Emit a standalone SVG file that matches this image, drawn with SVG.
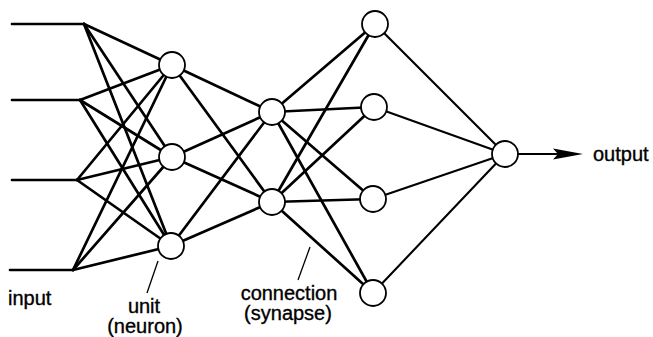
<svg xmlns="http://www.w3.org/2000/svg" width="653" height="337" viewBox="0 0 653 337">
<style>
.c{stroke:#000;stroke-width:2.7;stroke-linecap:round;fill:none}
.c2{stroke:#000;stroke-width:2.1;stroke-linecap:round;fill:none}
.n{fill:#fff;stroke:#000;stroke-width:1.8}
.t{font-family:"Liberation Sans",Arial,sans-serif;font-size:20px;fill:#000;stroke:#000;stroke-width:0.35}
.p{stroke:#000;stroke-width:1.3;fill:none}
</style>
<rect width="653" height="337" fill="#fff"/>
<g id="connectors">
<line class="c" x1="12" y1="24" x2="84" y2="24"/>
<line class="c" x1="12" y1="100" x2="80" y2="100"/>
<line class="c" x1="12" y1="180" x2="77" y2="180"/>
<line class="c" x1="10" y1="270" x2="73" y2="270"/>
<line class="c" x1="84" y1="24" x2="172" y2="65"/>
<line class="c" x1="84" y1="24" x2="172" y2="157"/>
<line class="c" x1="84" y1="24" x2="171" y2="246"/>
<line class="c" x1="80" y1="100" x2="172" y2="65"/>
<line class="c" x1="80" y1="100" x2="172" y2="157"/>
<line class="c" x1="80" y1="100" x2="171" y2="246"/>
<line class="c" x1="77" y1="180" x2="172" y2="65"/>
<line class="c" x1="77" y1="180" x2="172" y2="157"/>
<line class="c" x1="77" y1="180" x2="171" y2="246"/>
<line class="c" x1="73" y1="270" x2="172" y2="65"/>
<line class="c" x1="73" y1="270" x2="172" y2="157"/>
<line class="c" x1="73" y1="270" x2="171" y2="246"/>
<line class="c" x1="172" y1="65" x2="272" y2="112"/>
<line class="c" x1="172" y1="65" x2="272" y2="202"/>
<line class="c" x1="172" y1="157" x2="272" y2="112"/>
<line class="c" x1="172" y1="157" x2="272" y2="202"/>
<line class="c" x1="171" y1="246" x2="272" y2="112"/>
<line class="c" x1="171" y1="246" x2="272" y2="202"/>
<line class="c" x1="272" y1="112" x2="375" y2="24"/>
<line class="c" x1="272" y1="112" x2="374" y2="107"/>
<line class="c" x1="272" y1="112" x2="373" y2="199"/>
<line class="c" x1="272" y1="112" x2="373" y2="293"/>
<line class="c" x1="272" y1="202" x2="375" y2="24"/>
<line class="c" x1="272" y1="202" x2="374" y2="107"/>
<line class="c" x1="272" y1="202" x2="373" y2="199"/>
<line class="c" x1="272" y1="202" x2="373" y2="293"/>
<line class="c2" x1="375" y1="24" x2="505" y2="154"/>
<line class="c2" x1="374" y1="107" x2="505" y2="154"/>
<line class="c2" x1="373" y1="199" x2="505" y2="154"/>
<line class="c2" x1="373" y1="293" x2="505" y2="154"/>
<line class="c2" x1="505" y1="154" x2="560" y2="154"/>
<polygon points="583,154 553,148.5 558,154 553,159.5" fill="#000"/>
<line class="p" x1="158" y1="261" x2="147" y2="293"/>
<line class="p" x1="310" y1="247" x2="298" y2="280"/>
</g>
<g id="h1a"><circle class="n" cx="172" cy="65" r="13"/></g>
<g id="h1b"><circle class="n" cx="172" cy="157" r="13"/></g>
<g id="h1c"><circle class="n" cx="171" cy="246" r="13"/></g>
<g id="h2a"><circle class="n" cx="272" cy="112" r="13"/></g>
<g id="h2b"><circle class="n" cx="272" cy="202" r="13"/></g>
<g id="h3a"><circle class="n" cx="375" cy="24" r="13"/></g>
<g id="h3b"><circle class="n" cx="374" cy="107" r="13"/></g>
<g id="h3c"><circle class="n" cx="373" cy="199" r="13"/></g>
<g id="h3d"><circle class="n" cx="373" cy="293" r="13"/></g>
<g id="out"><circle class="n" cx="505" cy="154" r="13"/></g>
<g id="labels">
<text class="t" x="8" y="305">input</text>
<text class="t" x="144" y="313" text-anchor="middle">unit</text>
<text class="t" x="145" y="333" text-anchor="middle">(neuron)</text>
<text class="t" x="289" y="300" text-anchor="middle">connection</text>
<text class="t" x="288" y="320" text-anchor="middle">(synapse)</text>
<text class="t" x="593" y="161">output</text>
</g>
</svg>
